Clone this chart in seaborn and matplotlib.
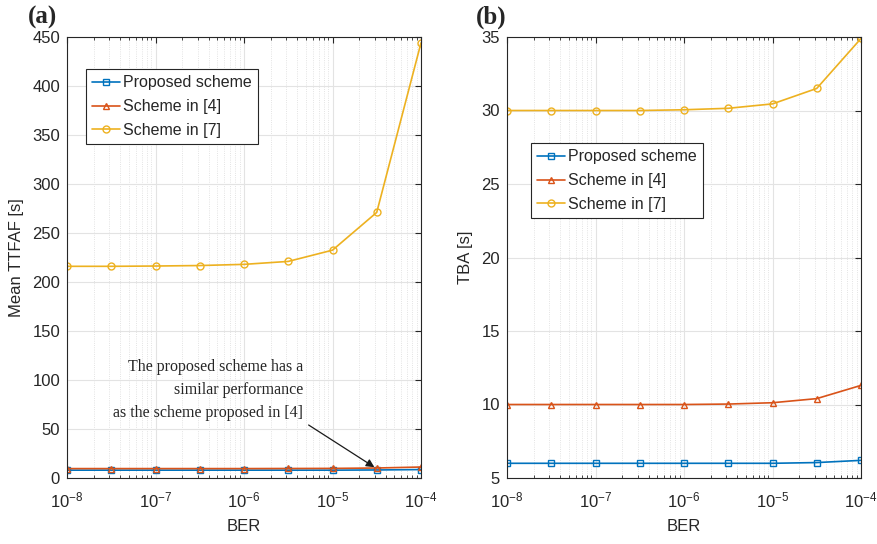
"""
TTFAF / TBA vs BER comparison (two panels)
"""
import numpy as np
import pandas as pd
import matplotlib
matplotlib.use('Agg')
import matplotlib.pyplot as plt
import seaborn as sns

# ============================
# data
# ============================
ber = [1e-8, 3.16e-8, 1e-7, 3.16e-7, 1e-6, 3.16e-6, 1e-5, 3.16e-5, 1e-4]
series_names = ['Proposed scheme', 'Scheme in [4]', 'Scheme in [7]']

ttfaf_proposed = [8.0, 8.0, 8.0, 8.0, 8.0, 8.0, 8.0, 8.2, 8.6]
ttfaf_ref4 = [9.6, 9.6, 9.6, 9.6, 9.6, 9.7, 9.8, 10.2, 11.2]
ttfaf_ref7 = [216.0, 216.0, 216.3, 216.8, 218.0, 221.0, 232.5, 271.0, 444.0]

tba_proposed = [6.0, 6.0, 6.0, 6.0, 6.0, 6.0, 6.0, 6.05, 6.2]
tba_ref4 = [10.0, 10.0, 10.0, 10.0, 10.0, 10.03, 10.12, 10.4, 11.3]
tba_ref7 = [30.0, 30.0, 30.0, 30.0, 30.05, 30.15, 30.45, 31.5, 34.9]

colors = ['#0072BD', '#D95319', '#EDB120']
markers = ['s', '^', 'o']

sns.set_style('white')
plt.rcParams['font.family'] = ['Liberation Sans', 'DejaVu Sans']
plt.rcParams['mathtext.fontset'] = 'custom'
plt.rcParams['mathtext.rm'] = 'Liberation Sans'
plt.rcParams['mathtext.it'] = 'Liberation Sans'


def make_df(values):
    rows = []
    for name, vals in zip(series_names, values):
        for b, v in zip(ber, vals):
            rows.append({'BER': b, 'value': v, 'scheme': name})
    return pd.DataFrame(rows)


def draw_panel(ax, df, ylim, yticks, ylabel, legend_bbox):
    for name, c, m in zip(series_names, colors, markers):
        sub = df[df['scheme'] == name]
        sns.lineplot(data=sub, x='BER', y='value', ax=ax, color=c, marker=m,
                     markersize=5, markerfacecolor='none', markeredgecolor=c,
                     markeredgewidth=1.0, linewidth=1.2, label=name)
    ax.set_xscale('log')
    ax.set_xlim(1e-8, 1e-4)
    ax.set_ylim(*ylim)
    ax.set_yticks(yticks)
    ax.set_xticks([1e-8, 1e-7, 1e-6, 1e-5, 1e-4])
    ax.grid(True, which='major', color='#e3e3e3', linewidth=0.8, linestyle='-')
    ax.grid(True, which='minor', color='#dadada', linewidth=0.6, linestyle=':')
    ax.set_axisbelow(True)
    ax.set_xlabel('BER', fontsize=12, labelpad=6)
    ax.set_ylabel(ylabel, fontsize=12, labelpad=6)
    ax.tick_params(axis='both', which='major', labelsize=12, direction='in',
                   length=4, top=True, right=True, color='#262626')
    ax.tick_params(axis='x', which='major', pad=9)
    ax.tick_params(axis='y', which='major', pad=5)
    ax.tick_params(axis='x', which='minor', direction='in', length=2.5,
                   top=True, bottom=True, color='#262626')
    for sp in ax.spines.values():
        sp.set_color('#262626')
        sp.set_linewidth(0.8)
    leg = ax.legend(loc='upper left', bbox_to_anchor=legend_bbox, fontsize=11.5,
                    frameon=True, fancybox=False, edgecolor='#262626',
                    handlelength=1.7, handletextpad=0.2, borderpad=0.4,
                    borderaxespad=0, labelspacing=0.55, framealpha=1)
    leg.get_frame().set_linewidth(0.8)


fig = plt.figure(figsize=(8.77, 5.44), dpi=100)
ax1 = fig.add_axes([67 / 877, 66 / 544, 354 / 877, 441 / 544])
ax2 = fig.add_axes([507 / 877, 66 / 544, 354 / 877, 441 / 544])

draw_panel(ax1, make_df([ttfaf_proposed, ttfaf_ref4, ttfaf_ref7]),
           (0, 450), np.arange(0, 451, 50), 'Mean TTFAF [s]',
           ((86 - 67) / 354, (478 - 69) / 441))
draw_panel(ax2, make_df([tba_proposed, tba_ref4, tba_ref7]),
           (5, 35), np.arange(5, 36, 5), 'TBA [s]',
           ((531 - 507) / 354, (478 - 143) / 441))

# annotation in panel (a)
ax1.annotate('The proposed scheme has a\nsimilar performance\nas the scheme proposed in [4]',
             xy=(ber[7], 9.5), xycoords='data',
             xytext=(303 / 877, 1 - 359 / 544), textcoords='figure fraction',
             ha='right', va='top', fontsize=11.5, family='Liberation Serif',
             multialignment='right', linespacing=1.6,
             arrowprops=dict(arrowstyle='-|>', color='#1a1a1a', lw=0.9,
                             shrinkA=2, shrinkB=2, mutation_scale=12,
                             relpos=(1.0, 0.0)))

fig.text(28 / 877, 1 - 17 / 544, '(a)', fontsize=18, fontweight='bold',
         family='Liberation Serif', va='center')
fig.text(476 / 877, 1 - 17 / 544, '(b)', fontsize=18, fontweight='bold',
         family='Liberation Serif', va='center')

plt.savefig('out.png', dpi=100)
plt.close()
